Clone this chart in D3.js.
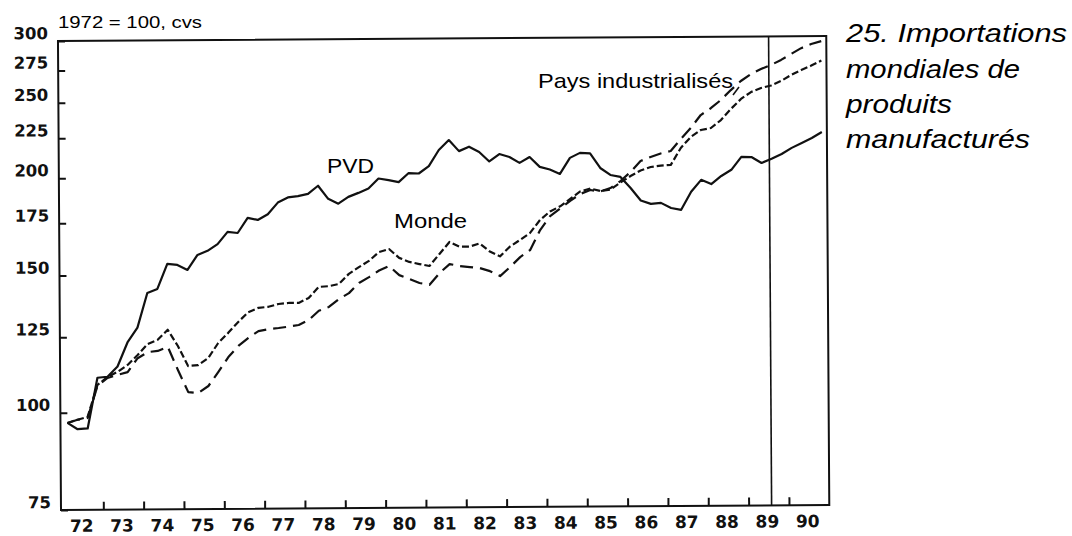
<!DOCTYPE html>
<html>
<head>
<meta charset="utf-8">
<script src="https://cdn.jsdelivr.net/npm/d3@7/dist/d3.min.js"></script>
<style>
    body { margin: 0; background: #fff; }
    svg { display: block; }
    .tick text { fill: #111; }
</style>
</head>
<body>
<svg id="chart" width="1072" height="536"></svg>
<script>
// -----------------------------
// data (quarterly, 1972 Q1 .. 1990 Q4, 1972 = 100)
// -----------------------------

const startYear = 1972
const endYear = 1991
const forecastStart = 1989.57

const pvd = [
    97.0, 95.2, 95.4, 110.8, 111.1, 114.5, 122.9, 128.4,
    142.2, 143.9, 154.9, 154.4, 152.1, 159.0, 160.9, 164.1,
    170.1, 169.5, 177.2, 176.1, 179.1, 185.3, 188.1, 188.8,
    190.0, 194.6, 187.2, 184.5, 188.2, 190.4, 192.9, 198.6,
    197.6, 196.4, 201.7, 201.4, 205.8, 215.8, 222.2, 215.0,
    217.8, 214.4, 208.4, 213.0, 211.1, 207.4, 211.0, 204.9,
    203.3, 200.6, 210.3, 213.4, 213.0, 204.0, 199.8, 198.6,
    192.2, 185.2, 183.3, 183.8, 181.0, 180.0, 189.8, 196.6,
    194.1, 198.8, 202.4, 210.2, 210.1, 206.4, 208.9, 211.9,
    215.7, 218.8, 222.0, 225.9
]

const monde = [
    97.0, 97.9, 98.7, 108.5, 111.0, 112.7, 115.0, 118.4,
    122.3, 123.8, 127.5, 121.5, 114.5, 114.8, 117.2, 122.5,
    126.2, 130.3, 134.1, 135.8, 136.2, 137.3, 137.7, 137.7,
    139.7, 144.3, 144.6, 145.5, 149.9, 152.9, 155.7, 159.8,
    161.2, 157.0, 155.1, 154.1, 153.2, 158.7, 164.4, 162.1,
    162.1, 163.6, 159.7, 157.4, 162.0, 165.2, 168.6, 175.2,
    179.6, 182.3, 186.3, 190.4, 192.0, 190.6, 191.4, 195.4,
    199.1, 202.3, 204.4, 205.2, 205.6, 216.1, 223.2, 227.8,
    229.1, 234.5, 242.3, 249.5, 254.6, 257.6, 259.5, 263.0,
    267.6, 271.5, 275.0, 279.1
]

const industrialises = [
    97.0, 97.9, 98.4, 108.2, 110.7, 111.7, 112.6, 117.3,
    119.4, 119.8, 121.2, 113.1, 106.0, 105.7, 107.9, 112.5,
    117.5, 121.4, 124.3, 126.8, 127.5, 127.9, 128.4, 129.0,
    130.9, 134.5, 136.0, 139.2, 141.6, 145.9, 148.4, 151.3,
    153.3, 149.2, 147.5, 145.7, 144.9, 150.0, 154.0, 153.1,
    152.6, 152.1, 150.7, 148.5, 152.5, 157.0, 160.3, 170.0,
    177.1, 181.1, 185.2, 189.0, 191.2, 190.3, 192.2, 196.2,
    201.5, 208.1, 210.5, 212.7, 214.2, 221.9, 229.2, 238.1,
    242.9, 248.8, 256.2, 263.1, 268.5, 272.5, 275.7, 279.8,
    284.7, 289.6, 293.1, 295.6
]

const yTickValues = [75, 100, 125, 150, 175, 200, 225, 250, 275, 300]
const yearTicks = d3.range(startYear + 1, endYear)
const yearLabels = d3.range(startYear, endYear)

const unitLabel = '1972 = 100, cvs'
const titleLines = ['25. Importations', 'mondiales de', 'produits', 'manufacturés']

// -----------------------------
// scales
// -----------------------------

const frame = {left: 61, right: 829.3, top: 41, bottom: 510}
const tilt = -0.37 // the scan is slightly rotated

const x = d3.scaleLinear()
    .domain([startYear, endYear])
    .range([63, frame.right])

const y = d3.scaleLog()
    .domain([75, 300])
    .range([frame.bottom, frame.top])

const svg = d3.select('#chart')

const plot = svg.append('g')
    .attr('transform', 'rotate(' + tilt + ',' + frame.left + ',' + frame.bottom + ')')

// frame
plot.append('path')
    .attr('d', 'M' + frame.left + ',' + frame.bottom + 'V' + frame.top + 'H' + frame.right + 'V' + frame.bottom + 'Z')
    .attr('fill', 'none')
    .attr('stroke', '#111')
    .attr('stroke-width', 2)

// forecast separator
plot.append('line')
    .attr('x1', x(forecastStart))
    .attr('x2', x(forecastStart))
    .attr('y1', frame.top)
    .attr('y2', frame.bottom)
    .attr('stroke', '#111')
    .attr('stroke-width', 1.6)

// -----------------------------
// axes
// -----------------------------

const yAxis = d3.axisLeft(y)
    .tickValues(yTickValues)
    .tickFormat(d3.format('d'))
    .tickSize(-7)
    .tickSizeOuter(0)
    .tickPadding(10)

plot.append('g')
    .attr('transform', 'translate(' + frame.left + ',0)')
    .call(yAxis)
    .call(g => g.select('.domain').remove())
    .call(g => g.selectAll('.tick line').attr('stroke', '#111').attr('stroke-width', 2))
    .call(g => g.selectAll('.tick text')
        .attr('dy', -2.5)
        .attr('font-family', 'DejaVu Sans')
        .attr('font-weight', 'bold')
        .attr('font-size', 16.5))

const xTickAxis = d3.axisBottom(x)
    .tickValues(yearTicks)
    .tickFormat('')
    .tickSize(-8)
    .tickSizeOuter(0)

plot.append('g')
    .attr('transform', 'translate(0,' + frame.bottom + ')')
    .call(xTickAxis)
    .call(g => g.select('.domain').remove())
    .call(g => g.selectAll('.tick line').attr('stroke', '#111').attr('stroke-width', 2))

const xLabelAxis = d3.axisBottom(x)
    .tickValues(yearLabels.map(d => d + 0.45))
    .tickFormat(d => String(Math.floor(d)).slice(2))
    .tickSize(0)
    .tickSizeOuter(0)

plot.append('g')
    .attr('transform', 'translate(0,' + frame.bottom + ')')
    .call(xLabelAxis)
    .call(g => g.select('.domain').remove())
    .call(g => g.selectAll('.tick text')
        .attr('y', 22)
        .attr('dy', 0)
        .attr('font-family', 'DejaVu Sans')
        .attr('font-weight', 'bold')
        .attr('font-size', 17))

// -----------------------------
// series
// -----------------------------

const line = d3.line()
    .x((d, i) => x(startYear + (i + 0.5) / 4))
    .y(d => y(d))

const series = [
    {name: 'PVD', values: pvd, dash: null},
    {name: 'Monde', values: monde, dash: '7,3'},
    {name: 'Pays industrialisés', values: industrialises, dash: '13,7'}
]

plot.append('g')
    .selectAll('path.series')
    .data(series)
    .enter()
    .append('path')
    .attr('class', 'series')
    .attr('d', d => line(d.values))
    .attr('fill', 'none')
    .attr('stroke', '#111')
    .attr('stroke-width', 2.2)
    .attr('stroke-linejoin', 'round')
    .attr('stroke-dasharray', d => d.dash)

// -----------------------------
// labels
// -----------------------------

const sans = 'Liberation Sans, Arial, Helvetica, sans-serif'

svg.append('text')
    .attr('x', 58)
    .attr('y', 28)
    .attr('font-family', sans)
    .attr('font-size', 17)
    .attr('textLength', 144)
    .attr('lengthAdjust', 'spacingAndGlyphs')
    .text(unitLabel)

const seriesLabels = [
    {text: 'PVD', x: 327, y: 173, w: 47},
    {text: 'Monde', x: 394, y: 228, w: 73},
    {text: 'Pays industrialisés', x: 538, y: 88, w: 195}
]

svg.selectAll('text.series-label')
    .data(seriesLabels)
    .enter()
    .append('text')
    .attr('class', 'series-label')
    .attr('x', d => d.x)
    .attr('y', d => d.y)
    .attr('font-family', sans)
    .attr('font-size', 21)
    .attr('textLength', d => d.w)
    .attr('lengthAdjust', 'spacingAndGlyphs')
    .text(d => d.text)

// small pointer from the label to the dashed line
svg.append('line')
    .attr('x1', 733)
    .attr('y1', 95)
    .attr('x2', 739)
    .attr('y2', 87)
    .attr('stroke', '#111')
    .attr('stroke-width', 1.6)

const titleWidths = [221, 174, 106, 184]
const titleBase = [42, 78, 113, 148]

svg.selectAll('text.title')
    .data(titleLines)
    .enter()
    .append('text')
    .attr('class', 'title')
    .attr('x', 846)
    .attr('y', (d, i) => titleBase[i])
    .attr('font-family', sans)
    .attr('font-style', 'italic')
    .attr('font-size', 25)
    .attr('textLength', (d, i) => titleWidths[i])
    .attr('lengthAdjust', 'spacingAndGlyphs')
    .text(d => d)
</script>
</body>
</html>
